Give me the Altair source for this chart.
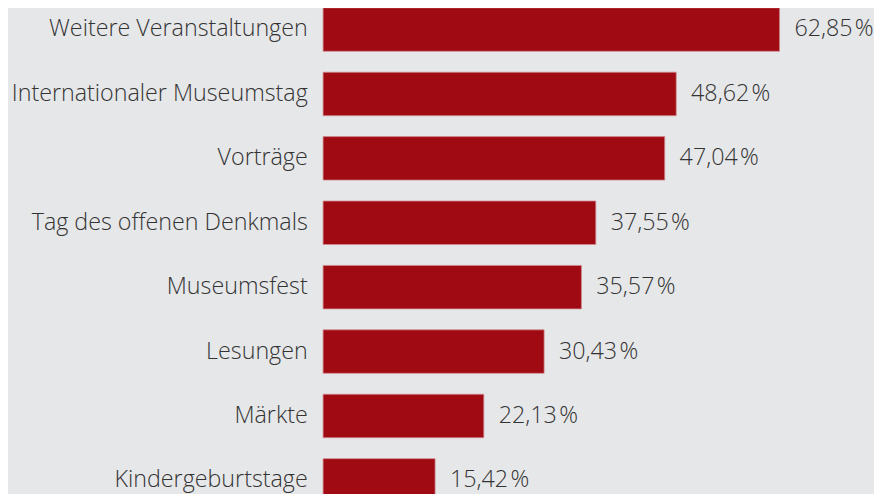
import altair as alt
import pandas as pd

categories = [
    "Weitere Veranstaltungen",
    "Internationaler Museumstag",
    "Vorträge",
    "Tag des offenen Denkmals",
    "Museumsfest",
    "Lesungen",
    "Märkte",
    "Kindergeburtstage",
]
values = [62.85, 48.62, 47.04, 37.55, 35.57, 30.43, 22.13, 15.42]

df = pd.DataFrame({"cat": categories, "val": values})
df["lab"] = [f"{v:.2f}".replace(".", ",") + "\u200a%" for v in values]

FONT = "Open Sans"
y = alt.Y(
    "cat:N",
    sort=categories,
    title=None,
    scale=alt.Scale(range=[-13, 507], paddingInner=0.325, paddingOuter=0.1625),
    axis=alt.Axis(
        domain=False,
        ticks=False,
        labelPadding=16,
        labelFont=FONT,
        labelFontSize=23.5,
        labelFontWeight=300,
        labelColor="#333333",
        labelLimit=400,
    ),
)
x = alt.X("val:Q", title=None, axis=None, scale=alt.Scale(domain=[0, 100], range=[0, 733]))

bars = alt.Chart(df).mark_bar(color="#a00a12", stroke="#d08a90", strokeWidth=0.8).encode(x=x, y=y)
text = alt.Chart(df).mark_text(
    align="left", baseline="middle", dx=15, font=FONT, fontSize=23.5, fontWeight=300, color="#333333"
).encode(x=x, y=y, text="lab:N")

chart = (
    (bars + text)
    .properties(
        width=556,
        height=486,
        autosize=alt.AutoSizeParams(type="none"),
        padding={"left": 318, "top": 0, "right": 0, "bottom": 0},
        background="#e6e7e9",
    )
    .configure_view(stroke=None)
)
chart.save("out.html", embed_options={"renderer": "svg", "actions": False})
